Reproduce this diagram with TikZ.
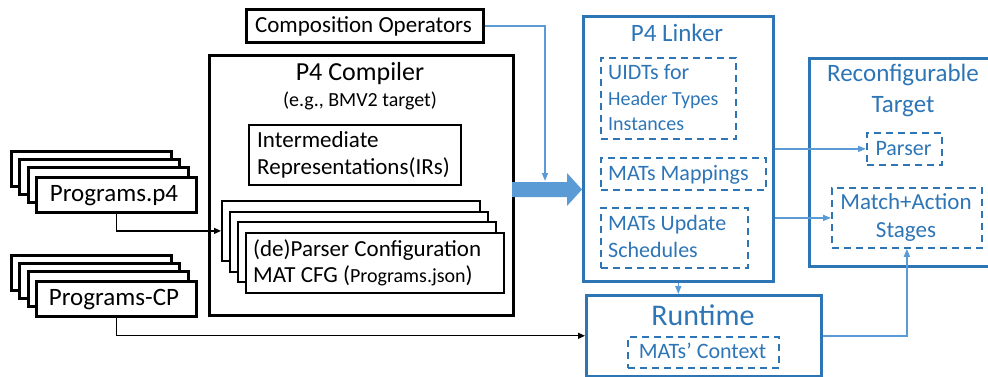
\documentclass[tikz,border=0pt]{standalone}
\usepackage{fontspec}
\setmainfont{Carlito}
\usetikzlibrary{arrows.meta}
\definecolor{bdark}{HTML}{2E75B6}
\definecolor{blight}{HTML}{5B9BD5}
\newcommand{\fsz}[1]{\fontsize{#1}{#1}\selectfont}
\tikzset{
  blk/.style={draw=black, line width=2.6pt, fill=white, inner sep=0pt, anchor=north west},
  blkthin/.style={draw=black, line width=1.8pt, fill=white, inner sep=0pt, anchor=north west},
  bbox/.style={draw=bdark, line width=2.6pt, inner sep=0pt, anchor=north west},
  dbox/.style={draw=bdark, line width=1.8pt, dash pattern=on 7pt off 5pt, inner sep=0pt, anchor=north west},
  txt/.style={inner sep=0pt, anchor=base},
  txtl/.style={inner sep=0pt, anchor=base west},
  btxt/.style={inner sep=0pt, anchor=base, text=bdark},
  btxtl/.style={inner sep=0pt, anchor=base west, text=bdark},
  kconn/.style={draw=black, line width=1.3pt, -{Triangle[length=7pt,width=6pt]}},
  bconn/.style={draw=blight, line width=1.5pt, -{Triangle[length=8pt,width=6pt]}},
}
\begin{document}
\begin{tikzpicture}[x=1pt,y=-1pt]
\useasboundingbox (0,0) rectangle (988,377);

% Composition operators
\node[blk, minimum width=237pt, minimum height=33pt] (comp) at (245,8) {};
\node[txt] (compt) at (363.5,33) {\fsz{23}Composition Operators};

% P4 Compiler
\node[blk, minimum width=304pt, minimum height=260pt] (compiler) at (208,54) {};
\node[txt] (compilert) at (360,80.5) {\fsz{26}P4 Compiler};
\node[txt] (compilers) at (360,107) {\fsz{20}(e.g., BMV2 target)};
\node[blkthin, minimum width=212pt, minimum height=60pt] (ir) at (248,124) {};
\node[txtl] (ir1) at (257,147) {\fsz{23}Intermediate};
\node[txtl] (ir2) at (257,175) {\fsz{23}Representations(IRs)};

% config stack
\node[blkthin, minimum width=258pt, minimum height=60pt] (cfg1) at (221,200) {};
\node[blkthin, minimum width=258pt, minimum height=60pt] (cfg2) at (229,211) {};
\node[blkthin, minimum width=258pt, minimum height=60pt] (cfg3) at (237,221) {};
\node[blkthin, minimum width=258pt, minimum height=60pt] (cfg4) at (245,232) {};
\node[txtl] (cfgt1) at (253,256) {\fsz{23}(de)Parser Configuration};
\node[txtl] (cfgt2) at (253,282) {\fsz{23}MAT CFG ({\fsz{20}Programs.json})};

% Programs.p4 stack
\node[blk, minimum width=160pt, minimum height=35pt] (pa1) at (10,150) {};
\node[blk, minimum width=160pt, minimum height=35pt] (pa2) at (18,158) {};
\node[blk, minimum width=160pt, minimum height=35pt] (pa3) at (27,166) {};
\node[blk, minimum width=160pt, minimum height=35pt] (p4) at (35,176) {};
\node[txt] (p4t) at (114,201.5) {\fsz{25}Programs.p4};

% Programs-CP stack
\node[blk, minimum width=160pt, minimum height=35pt] (pc1) at (10,254) {};
\node[blk, minimum width=160pt, minimum height=35pt] (pc2) at (18,262) {};
\node[blk, minimum width=160pt, minimum height=35pt] (pc3) at (27,270) {};
\node[blk, minimum width=160pt, minimum height=35pt] (cp) at (35,280) {};
\node[txt] (cpt) at (114,305) {\fsz{25}Programs-CP};

% P4 Linker
\node[bbox, minimum width=190pt, minimum height=265pt] (linker) at (582,15) {};
\node[btxt] (linkert) at (677,41.5) {\fsz{25}P4 Linker};
\node[dbox, minimum width=135pt, minimum height=81pt] (uidt) at (600,57) {};
\node[btxtl] (uidt1) at (608,80) {\fsz{22}UIDTs for};
\node[btxtl] (uidt2) at (608,106) {\fsz{20}Header Types};
\node[btxtl] (uidt3) at (608,131) {\fsz{20}Instances};
\node[dbox, minimum width=165pt, minimum height=32pt] (map) at (600,157) {};
\node[btxtl] (mapt) at (608,180) {\fsz{22}MATs Mappings};
\node[dbox, minimum width=147pt, minimum height=60pt] (sched) at (600,207) {};
\node[btxtl] (sched1) at (608,230) {\fsz{22}MATs Update};
\node[btxtl] (sched2) at (608,257) {\fsz{22}Schedules};

% Reconfigurable target
\node[bbox, minimum width=190pt, minimum height=208pt] (target) at (808,57) {};
\node[btxt] (targett1) at (903,82) {\fsz{25}Reconfigurable};
\node[btxt] (targett2) at (903,113) {\fsz{25}Target};
\node[dbox, minimum width=75pt, minimum height=32pt] (parser) at (866,132) {};
\node[btxt] (parsert) at (903.5,155.5) {\fsz{22}Parser};
\node[dbox, minimum width=150pt, minimum height=60pt] (match) at (831,187) {};
\node[btxt] (match1) at (906,209) {\fsz{23}Match+Action};
\node[btxt] (match2) at (906,237.5) {\fsz{23}Stages};

% Runtime
\node[bbox, minimum width=235pt, minimum height=81pt] (runtime) at (585,294) {};
\node[btxt] (runtimet) at (703,325) {\fsz{30}Runtime};
\node[dbox, minimum width=151pt, minimum height=31pt] (ctx) at (627,336) {};
\node[btxt] (ctxt) at (702.5,358) {\fsz{22}MATs’ Context};

% big arrow
\fill[blight] (512,182) -- (567,182) -- (567,173) -- (582,189.5) -- (567,206) -- (567,197) -- (512,197) -- cycle;

% connectors
\coordinate (bigtop) at (545,181);
\draw[bconn] (comp.east) -| (bigtop);
\draw[kconn] (p4.south) |- (cfg1.west);
\draw[kconn] (cp.south) |- (runtime.west);
\draw[bconn] (parser.west -| linker.east) -- (parser.west);
\draw[bconn] (match.west -| linker.east) -- (match.west);
\draw[bconn] (linker.south) -- (linker.south |- runtime.north);
\draw[bconn] (runtime.east) -| (match.south);
\end{tikzpicture}
\end{document}
